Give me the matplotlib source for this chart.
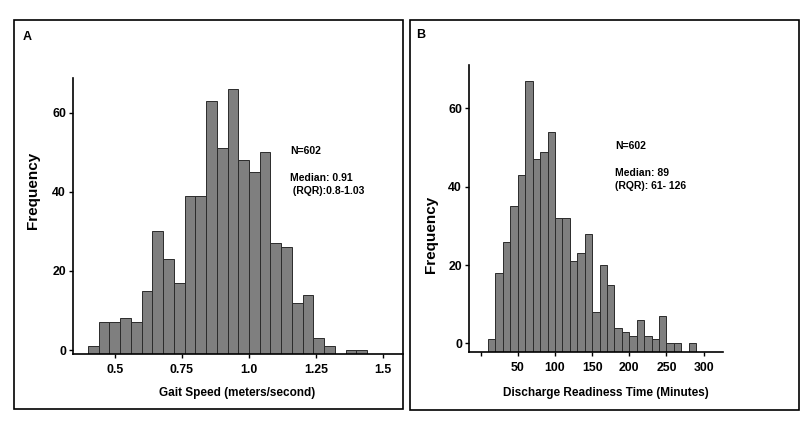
import matplotlib
matplotlib.use("Agg")
import matplotlib.pyplot as plt
from matplotlib.patches import Rectangle

# Panel A : vitesse de marche (m/s), bins de 0.04
gait_left_edges = [0.40, 0.44, 0.48, 0.52, 0.56, 0.60, 0.64, 0.68, 0.72, 0.76,
                   0.80, 0.84, 0.88, 0.92, 0.96, 1.00, 1.04, 1.08, 1.12, 1.16,
                   1.20, 1.24, 1.28, 1.36, 1.40]
gait_counts = [1, 7, 7, 8, 7, 15, 30, 23, 17, 39,
               39, 63, 51, 66, 48, 45, 50, 27, 26, 12,
               14, 3, 1, 0, 0]
gait_ticks = [0.5, 0.75, 1.0, 1.25, 1.5]
gait_ticklabels = ["0.5", "0.75", "1.0", "1.25", "1.5"]

# Panel B : discharge readiness time (minutes), bins de 10
drt_left_edges = [10, 20, 30, 40, 50, 60, 70, 80, 90, 100,
                  110, 120, 130, 140, 150, 160, 170, 180, 190, 200,
                  210, 220, 230, 240, 250, 260, 280]
drt_counts = [1, 18, 26, 35, 43, 67, 47, 49, 54, 32,
              32, 21, 23, 28, 8, 20, 15, 4, 3, 2,
              6, 2, 1, 7, 0, 0, 0]
drt_ticks = [0, 50, 100, 150, 200, 250, 300]
drt_ticklabels = ["", "50", "100", "150", "200", "250", "300"]

freq_ticks = [0, 20, 40, 60]

W, H = 800, 432
FONT = "Liberation Sans"
BAR_COLOR = "#7f7f7f"
EDGE_COLOR = "#2b2b2b"


def px_axes(left, top, right, bottom):
    return [left / W, 1 - bottom / H, (right - left) / W, (bottom - top) / H]


def px(x, y):
    return x / W, 1 - y / H


def draw_hist(ax, edges, counts, width, floor, xlim, ylim, xticks, xticklabels):
    heights = [c - floor for c in counts]
    ax.bar(edges, heights, width=width, bottom=floor, align="edge",
           color=BAR_COLOR, edgecolor=EDGE_COLOR, linewidth=0.7)
    ax.set_xlim(*xlim)
    ax.set_ylim(*ylim)
    ax.set_xticks(xticks)
    ax.set_xticklabels(xticklabels)
    ax.set_yticks(freq_ticks)
    for side in ("top", "right"):
        ax.spines[side].set_visible(False)
    for side in ("left", "bottom"):
        ax.spines[side].set_linewidth(1.2)
    ax.tick_params(direction="out", length=3, width=1, pad=2)
    ax.tick_params(axis="x", pad=4)
    for lab in ax.get_xticklabels() + ax.get_yticklabels():
        lab.set_fontfamily(FONT)
        lab.set_fontweight("bold")
        lab.set_fontsize(8.8)


fig = plt.figure(figsize=(W / 100, H / 100), dpi=100)

# cadres des deux panneaux
for (x0, y0, x1, y1) in [(14, 20, 403, 409), (410, 20, 799, 410)]:
    fig.patches.append(Rectangle(px(x0, y1), (x1 - x0) / W, (y1 - y0) / H,
                                 transform=fig.transFigure, fill=False,
                                 edgecolor="black", linewidth=1.2))

# Panneau A
ax_a = fig.add_axes(px_axes(73, 78, 403, 354))
draw_hist(ax_a, gait_left_edges, gait_counts, 0.04, -1.0,
          (0.344, 1.574), (-1.0, 68.8), gait_ticks, gait_ticklabels)
txt = dict(fontfamily=FONT, fontweight="bold", fontsize=7.5, va="center", ha="left")
ax_a.text(1.153, 50.4, "N=602", **txt)
ax_a.text(1.153, 43.6, "Median: 0.91", **txt)
ax_a.text(1.153, 40.2, " (RQR):0.8-1.03", **txt)

# Panneau B
ax_b = fig.add_axes(px_axes(469, 65, 723, 352))
draw_hist(ax_b, drt_left_edges, drt_counts, 10, -2.2,
          (-15.6, 326), (-2.2, 71.1), drt_ticks, drt_ticklabels)
ax_b.text(180.6, 50.4, "N=602", **txt)
ax_b.text(180.6, 43.6, "Median: 89", **txt)
ax_b.text(180.6, 40.3, "(RQR): 61- 126", **txt)

lab = dict(fontfamily=FONT, fontweight="bold", fontsize=8.5, ha="center", va="center")
fig.text(*px(237.5, 393), "Gait Speed (meters/second)", **lab)
fig.text(*px(605.7, 393), "Discharge Readiness Time (Minutes)", **lab)
ylab = dict(lab, fontsize=11)
fig.text(*px(33, 190), "Frequency", rotation=90, **ylab)
fig.text(*px(431, 234), "Frequency", rotation=90, **ylab)
fig.text(*px(27, 37), "A", fontfamily=FONT, fontweight="bold", fontsize=9,
         ha="center", va="center")
fig.text(*px(421, 35), "B", fontfamily=FONT, fontweight="bold", fontsize=9,
         ha="center", va="center")

fig.savefig("out.png", dpi=100)
